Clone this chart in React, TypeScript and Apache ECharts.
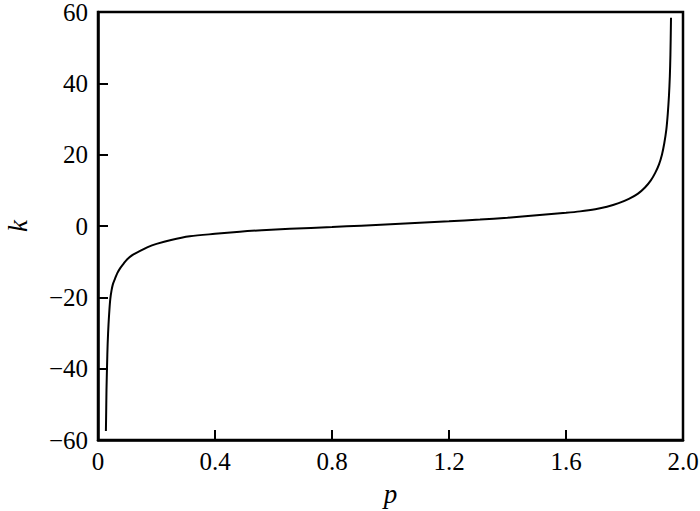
import React, { useEffect, useRef } from "react";
import * as echarts from "echarts";

const pValues = [
  0.027, 0.028, 0.029, 0.031, 0.033, 0.036, 0.039, 0.042, 0.046, 0.051, 0.058, 0.066,
  0.076, 0.087, 0.100, 0.120, 0.144, 0.170, 0.200, 0.250, 0.314, 0.400, 0.485, 0.560,
  0.656, 0.800, 0.900, 1.000, 1.100, 1.200, 1.306, 1.400, 1.500, 1.600, 1.648, 1.700,
  1.740, 1.780, 1.815, 1.845, 1.870, 1.890, 1.905, 1.918, 1.928, 1.936, 1.943, 1.948,
  1.952, 1.955, 1.957, 1.959,
];
const kValues = [
  -57.5, -52.0, -46.0, -39.0, -33.0, -27.5, -23.5, -20.5, -18.2, -16.3, -14.8, -13.2,
  -11.8, -10.6, -9.3, -8.0, -7.0, -5.9, -5.0, -3.9, -2.9, -2.2, -1.6, -1.2,
  -0.8, -0.3, 0.1, 0.5, 0.9, 1.3, 1.8, 2.3, 3.0, 3.7, 4.1, 4.7,
  5.4, 6.4, 7.6, 9.0, 10.8, 12.8, 14.9, 17.3, 20.0, 23.2, 27.0, 31.5,
  36.5, 42.0, 48.0, 58.4,
];
const xTickLabels = ["0", "0.4", "0.8", "1.2", "1.6", "2.0"];
const yTickLabels = ["−60", "−40", "−20", "0", "20", "40", "60"];

const FONT = "Times New Roman";

export default function App() {
  const ref = useRef<HTMLDivElement>(null);
  useEffect(() => {
    if (!ref.current) return;
    const chart = echarts.init(ref.current, undefined, { renderer: "svg" });
    const data = pValues.map((p, i) => [p, kValues[i]]);
    chart.setOption({
      animation: false,
      backgroundColor: "#ffffff",
      textStyle: { fontFamily: FONT },
      grid: {
        left: 98,
        right: 17,
        top: 12,
        bottom: 71,
        outerBoundsMode: "none",
        containLabel: false,
        show: true,
        borderColor: "#000",
        borderWidth: 2.5,
      },
      xAxis: {
        type: "value",
        min: 0,
        max: 2,
        interval: 0.4,
        name: "p",
        nameLocation: "middle",
        nameGap: 42,
        nameTextStyle: { fontFamily: FONT, fontSize: 27, fontStyle: "italic", color: "#000", lineHeight: 24 },
        axisLine: { show: true, onZero: false, lineStyle: { color: "#000", width: 2.5 } },
        axisTick: { show: true, inside: true, length: 10, lineStyle: { color: "#000", width: 2 } },
        axisLabel: {
          margin: 11,
          fontFamily: FONT,
          fontSize: 25,
          lineHeight: 20,
          color: "#000",
          formatter: (v: number) => xTickLabels[Math.round(v / 0.4)] ?? "",
        },
        splitLine: { show: false },
      },
      yAxis: {
        type: "value",
        min: -60,
        max: 60,
        interval: 20,
        name: "k",
        nameLocation: "middle",
        nameGap: 70,
        nameRotate: 90,
        nameTextStyle: { fontFamily: FONT, fontSize: 27, fontStyle: "italic", color: "#000", lineHeight: 20 },
        axisLine: { show: true, onZero: false, lineStyle: { color: "#000", width: 2.5 } },
        axisTick: { show: true, inside: true, length: 10, lineStyle: { color: "#000", width: 2 } },
        axisLabel: {
          margin: 10,
          fontFamily: FONT,
          fontSize: 25,
          lineHeight: 20,
          padding: [3, 0, 0, 0],
          color: "#000",
          formatter: (v: number) => yTickLabels[Math.round((v + 60) / 20)] ?? "",
        },
        splitLine: { show: false },
      },
      series: [
        {
          type: "line",
          data,
          smooth: 0.3,
          showSymbol: false,
          lineStyle: { color: "#000", width: 2 },
        },
      ],
    });
    return () => chart.dispose();
  }, []);
  return (
    <div
      ref={ref}
      style={{ position: "absolute", left: 0, top: 0, width: 700, height: 511 }}
    />
  );
}
